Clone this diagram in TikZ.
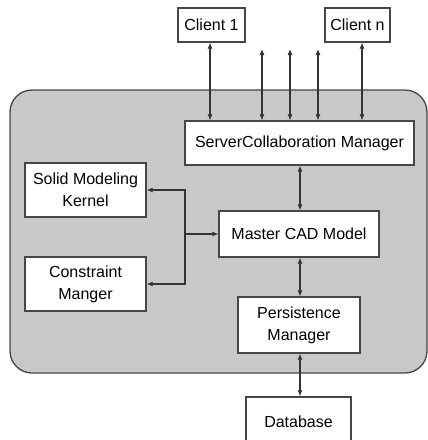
\documentclass[tikz,border=0pt]{standalone}
\usepackage{fontspec}
\setmainfont{Liberation Sans}
\usetikzlibrary{arrows.meta}
\definecolor{panel}{RGB}{200,200,200}
\definecolor{edge}{RGB}{70,70,70}
\tikzset{
  blk/.style={draw=edge, line width=1.2pt, fill=white, inner sep=0pt, align=center, font=\fontsize{16}{22}\selectfont},
  conn/.style={draw=black!80, line width=1.1pt, {Latex[length=6pt,width=5pt]}-{Latex[length=6pt,width=5pt]}},
  oneway/.style={draw=black!80, line width=1.1pt, -{Latex[length=6pt,width=5pt]}},
}
\begin{document}
\begin{tikzpicture}[x=1pt,y=-1pt]
\useasboundingbox (0,0) rectangle (428,440);
\clip (0,0) rectangle (428,440);
% server panel
\draw[draw=edge, line width=1.3pt, fill=panel, rounded corners=22pt] (10,90) rectangle (427,373);
% boxes
\node[blk, minimum width=67pt, minimum height=34pt] (c1) at (211.5,25) {Client 1};
\node[blk, minimum width=65pt, minimum height=34pt] (cn) at (357.5,25) {Client n};
\node[blk, minimum width=229pt, minimum height=44pt] (scm) at (299.5,143) {ServerCollaboration Manager};
\node[blk, minimum width=121pt, minimum height=54pt] (smk) at (85.5,190) {Solid Modeling\\Kernel};
\node[blk, minimum width=160pt, minimum height=46pt] (mcad) at (299,234) {Master CAD Model};
\node[blk, minimum width=121pt, minimum height=54pt] (cm) at (85.5,284) {Constraint\\Manger};
\node[blk, minimum width=122pt, minimum height=56pt] (pm) at (299,325) {Persistence\\Manager};
\node[blk, minimum width=105pt, minimum height=50pt] (db) at (298.5,422) {Database};
% free ends
\coordinate (f1) at (262,49);
\coordinate (f2) at (290,49);
\coordinate (f3) at (318,49);
\coordinate (j) at (185,234);
% client connectors
\draw[conn] (c1.south -| 210,0) -- (scm.north -| 210,0);
\draw[conn] (cn.south -| 362,0) -- (scm.north -| 362,0);
\draw[conn] (f1) -- (scm.north -| f1);
\draw[conn] (f2) -- (scm.north -| f2);
\draw[conn] (f3) -- (scm.north -| f3);
% vertical chain
\draw[conn] (scm.south -| 300,0) -- (mcad.north -| 300,0);
\draw[conn] (mcad.south -| 300,0) -- (pm.north -| 300,0);
\draw[conn] (pm.south -| 300,0) -- (db.north -| 300,0);
% side modules
\draw[oneway] (j) |- (smk.east);
\draw[oneway] (j) |- (cm.east);
\draw[oneway] (j) -- (mcad.west);
\end{tikzpicture}
\end{document}
